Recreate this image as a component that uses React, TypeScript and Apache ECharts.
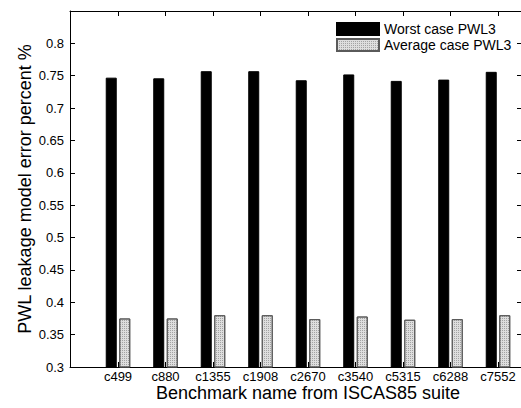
import React, { useEffect, useRef } from "react";
import * as echarts from "echarts";

const categories = ["c499", "c880", "c1355", "c1908", "c2670", "c3540", "c5315", "c6288", "c7552"];
const worstCase = [0.747, 0.746, 0.757, 0.757, 0.743, 0.752, 0.742, 0.744, 0.756];
const averageCase = [0.375, 0.375, 0.38, 0.38, 0.374, 0.378, 0.373, 0.374, 0.38];
const seriesNames = ["Worst case PWL3", "Average case PWL3"];
const yMin = 0.3;
const yMax = 0.85;
const yStep = 0.05;

const FONT = "'Liberation Sans', Arial, Helvetica, sans-serif";

export default function App() {
  const ref = useRef<HTMLDivElement>(null);
  useEffect(() => {
    if (!ref.current) return;
    const chart = echarts.init(ref.current, null, { renderer: "svg" });
    const top = 11;
    const bottom = 41;
    const frameAxis = {
      axisLine: { show: true, onZero: false, lineStyle: { color: "#000", width: 1 } },
      axisTick: { show: false },
      axisLabel: { show: false },
      splitLine: { show: false },
    };
    chart.setOption({
      animation: false,
      backgroundColor: "#fff",
      textStyle: { fontFamily: FONT },
      grid: [
        { left: 70, right: -1, top, bottom, containLabel: false, outerBoundsMode: "none" },
        { left: 94.25, right: -0.75, top, bottom, containLabel: false, outerBoundsMode: "none" },
      ],
      legend: {
        orient: "vertical",
        left: 336,
        top: 22,
        padding: 0,
        itemWidth: 42,
        itemHeight: 12,
        itemGap: 2,
        icon: "rect",
        textStyle: { fontSize: 14, color: "#000", fontFamily: FONT },
        data: seriesNames,
      },
      xAxis: [
        { type: "value", gridIndex: 0, min: 0, max: 1, position: "bottom", ...frameAxis },
        { type: "value", gridIndex: 0, min: 0, max: 1, position: "top", ...frameAxis },
        {
          type: "category",
          gridIndex: 1,
          position: "bottom",
          data: categories,
          axisLine: { show: false, onZero: false },
          axisTick: { show: true, inside: true, alignWithLabel: true, length: 5, lineStyle: { color: "#000" } },
          axisLabel: { fontSize: 13, color: "#000", margin: 3, fontFamily: FONT },
          name: "Benchmark name from ISCAS85 suite",
          nameLocation: "middle",
          nameGap: 17,
          nameMoveOverlap: false,
          nameTextStyle: { fontSize: 18, color: "#000", fontFamily: FONT },
        },
        {
          type: "category",
          gridIndex: 1,
          position: "top",
          data: categories,
          axisLine: { show: false, onZero: false },
          axisTick: { show: true, inside: true, alignWithLabel: true, length: 5, lineStyle: { color: "#000" } },
          axisLabel: { show: false },
        },
      ],
      yAxis: [
        {
          type: "value",
          gridIndex: 0,
          position: "left",
          min: yMin,
          max: yMax,
          interval: yStep,
          axisLine: { show: true, onZero: false, lineStyle: { color: "#000" } },
          axisTick: { show: true, inside: true, length: 5, lineStyle: { color: "#000" } },
          axisLabel: {
            fontSize: 13,
            color: "#000",
            margin: 6,
            fontFamily: FONT,
            formatter: (v: number) => (Math.abs(v - yMax) < 1e-9 ? "" : String(Number(v.toFixed(2)))),
          },
          splitLine: { show: false },
          name: "PWL leakage model error percent %",
          nameLocation: "middle",
          nameGap: 36,
          nameMoveOverlap: false,
          nameTextStyle: { fontSize: 18, color: "#000", fontFamily: FONT },
        },
        {
          type: "value",
          gridIndex: 0,
          position: "right",
          min: yMin,
          max: yMax,
          interval: yStep,
          axisLine: { show: true, onZero: false, lineStyle: { color: "#000" } },
          axisTick: { show: true, inside: true, length: 5, lineStyle: { color: "#000" } },
          axisLabel: { show: false },
          splitLine: { show: false },
        },
        {
          type: "value",
          gridIndex: 1,
          min: yMin,
          max: yMax,
          interval: yStep,
          show: false,
          splitLine: { show: false },
        },
      ],
      series: [
        {
          name: seriesNames[0],
          type: "bar",
          xAxisIndex: 2,
          yAxisIndex: 2,
          data: worstCase,
          barWidth: 11,
          barGap: "23%",
          itemStyle: { color: "#000", borderColor: "#000", borderWidth: 1 },
          z: 3,
        },
        {
          name: seriesNames[1],
          type: "bar",
          xAxisIndex: 2,
          yAxisIndex: 2,
          data: averageCase,
          barWidth: 11,
          barGap: "23%",
          itemStyle: {
            color: "#dedede",
            borderColor: "#5a5a5a",
            borderWidth: 1,
            decal: {
              symbol: "rect",
              symbolSize: 1,
              color: "rgba(90,90,90,0.45)",
              dashArrayX: [1, 1],
              dashArrayY: [1, 1],
              rotation: 0,
            },
          },
          z: 3,
        },
      ],
    });
    return () => chart.dispose();
  }, []);
  return (
    <div
      ref={ref}
      style={{ position: "fixed", left: 0, top: 0, width: 521, height: 408, background: "#fff" }}
    />
  );
}
